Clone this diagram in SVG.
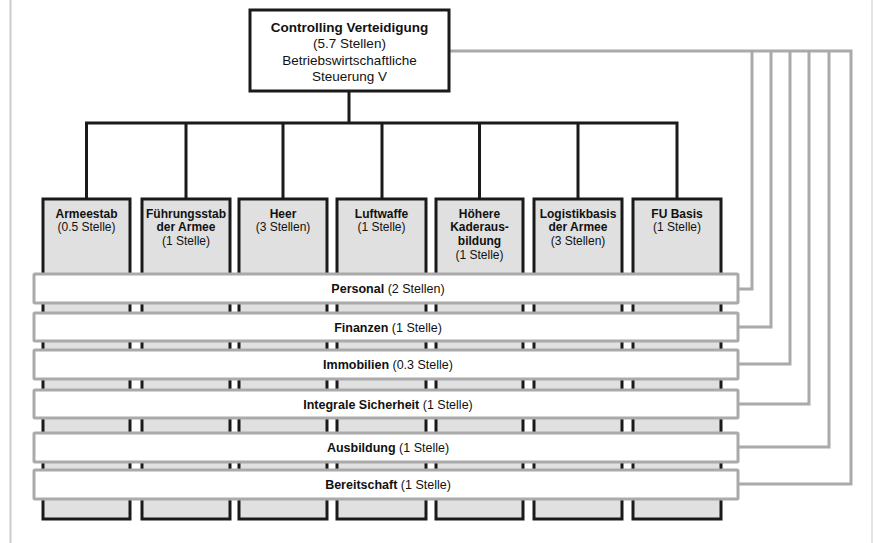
<svg xmlns="http://www.w3.org/2000/svg" width="873" height="543" viewBox="0 0 873 543">
<style>
text{font-family:"Liberation Sans",Arial,sans-serif;fill:#111;text-anchor:middle}
.h{font-size:13.5px}
.t{font-size:12.5px}
.s{font-size:12px}
.b{font-weight:bold}
.unit{fill:#e0e0e0;stroke:#1a1a1a;stroke-width:3}
.band{fill:#fff;stroke:#aaa;stroke-width:3}
.tree{fill:none;stroke:#1a1a1a;stroke-width:3}
.gray{fill:none;stroke:#aaa;stroke-width:3}
</style>
<rect x="0" y="0" width="873" height="543" fill="#fff"/>
<line x1="10.5" y1="0" x2="10.5" y2="543" stroke="#ccc" stroke-width="2"/>
<line x1="872" y1="0" x2="872" y2="543" stroke="#e4e4e4" stroke-width="2"/>
<g id="connectors">
<path class="tree" d="M349 91V123M86.5 199V123H677V199M186 123V199M283 123V199M382 123V199M479.5 123V199M578 123V199"/>
<path class="gray" d="M449 51H851V484H738M752 51V289H738M771 51V327H738M790 51V364H738M809 51V404H738M829 51V447H738"/>
</g>
<g id="top">
<rect x="250" y="10" width="199" height="81" fill="#fff" stroke="#1a1a1a" stroke-width="3"/>
<text class="h b" x="349.5" y="32">Controlling Verteidigung</text>
<text class="h" x="349.5" y="48">(5.7 Stellen)</text>
<text class="h" x="349.5" y="65">Betriebswirtschaftliche</text>
<text class="h" x="349.5" y="81">Steuerung V</text>
</g>
<g id="armeestab"><rect class="unit" x="43" y="199" width="87" height="320"/>
<text class="s b" x="86.5" y="218">Armeestab</text><text class="s" x="86.5" y="231">(0.5 Stelle)</text></g>
<g id="fuehrungsstab"><rect class="unit" x="142" y="199" width="88" height="320"/>
<text class="s b" x="186" y="218">Führungsstab</text><text class="s b" x="186" y="231">der Armee</text><text class="s" x="186" y="245">(1 Stelle)</text></g>
<g id="heer"><rect class="unit" x="239" y="199" width="88" height="320"/>
<text class="s b" x="283" y="218">Heer</text><text class="s" x="283" y="231">(3 Stellen)</text></g>
<g id="luftwaffe"><rect class="unit" x="337" y="199" width="89" height="320"/>
<text class="s b" x="381.5" y="218">Luftwaffe</text><text class="s" x="381.5" y="231">(1 Stelle)</text></g>
<g id="kader"><rect class="unit" x="436" y="199" width="87" height="320"/>
<text class="s b" x="479.5" y="218">Höhere</text><text class="s b" x="479.5" y="231">Kaderaus-</text><text class="s b" x="479.5" y="245">bildung</text><text class="s" x="479.5" y="259">(1 Stelle)</text></g>
<g id="logistik"><rect class="unit" x="534" y="199" width="88" height="320"/>
<text class="s b" x="578" y="218">Logistikbasis</text><text class="s b" x="578" y="231">der Armee</text><text class="s" x="578" y="245">(3 Stellen)</text></g>
<g id="fubasis"><rect class="unit" x="633" y="199" width="88" height="320"/>
<text class="s b" x="677" y="218">FU Basis</text><text class="s" x="677" y="231">(1 Stelle)</text></g>
<g id="personal"><rect class="band" x="34" y="274" width="704" height="29" rx="1"/>
<text class="t" x="388" y="293"><tspan class="b">Personal</tspan> (2 Stellen)</text></g>
<g id="finanzen"><rect class="band" x="34" y="313" width="704" height="28" rx="1"/>
<text class="t" x="388" y="331.5"><tspan class="b">Finanzen</tspan> (1 Stelle)</text></g>
<g id="immobilien"><rect class="band" x="34" y="350" width="704" height="29" rx="1"/>
<text class="t" x="388" y="368.5"><tspan class="b">Immobilien</tspan> (0.3 Stelle)</text></g>
<g id="sicherheit"><rect class="band" x="34" y="390" width="704" height="28" rx="1"/>
<text class="t" x="388" y="408.5"><tspan class="b">Integrale Sicherheit</tspan> (1 Stelle)</text></g>
<g id="ausbildung"><rect class="band" x="34" y="433" width="704" height="29" rx="1"/>
<text class="t" x="388" y="452"><tspan class="b">Ausbildung</tspan> (1 Stelle)</text></g>
<g id="bereitschaft"><rect class="band" x="34" y="470" width="704" height="29" rx="1"/>
<text class="t" x="388" y="489"><tspan class="b">Bereitschaft</tspan> (1 Stelle)</text></g>
</svg>
